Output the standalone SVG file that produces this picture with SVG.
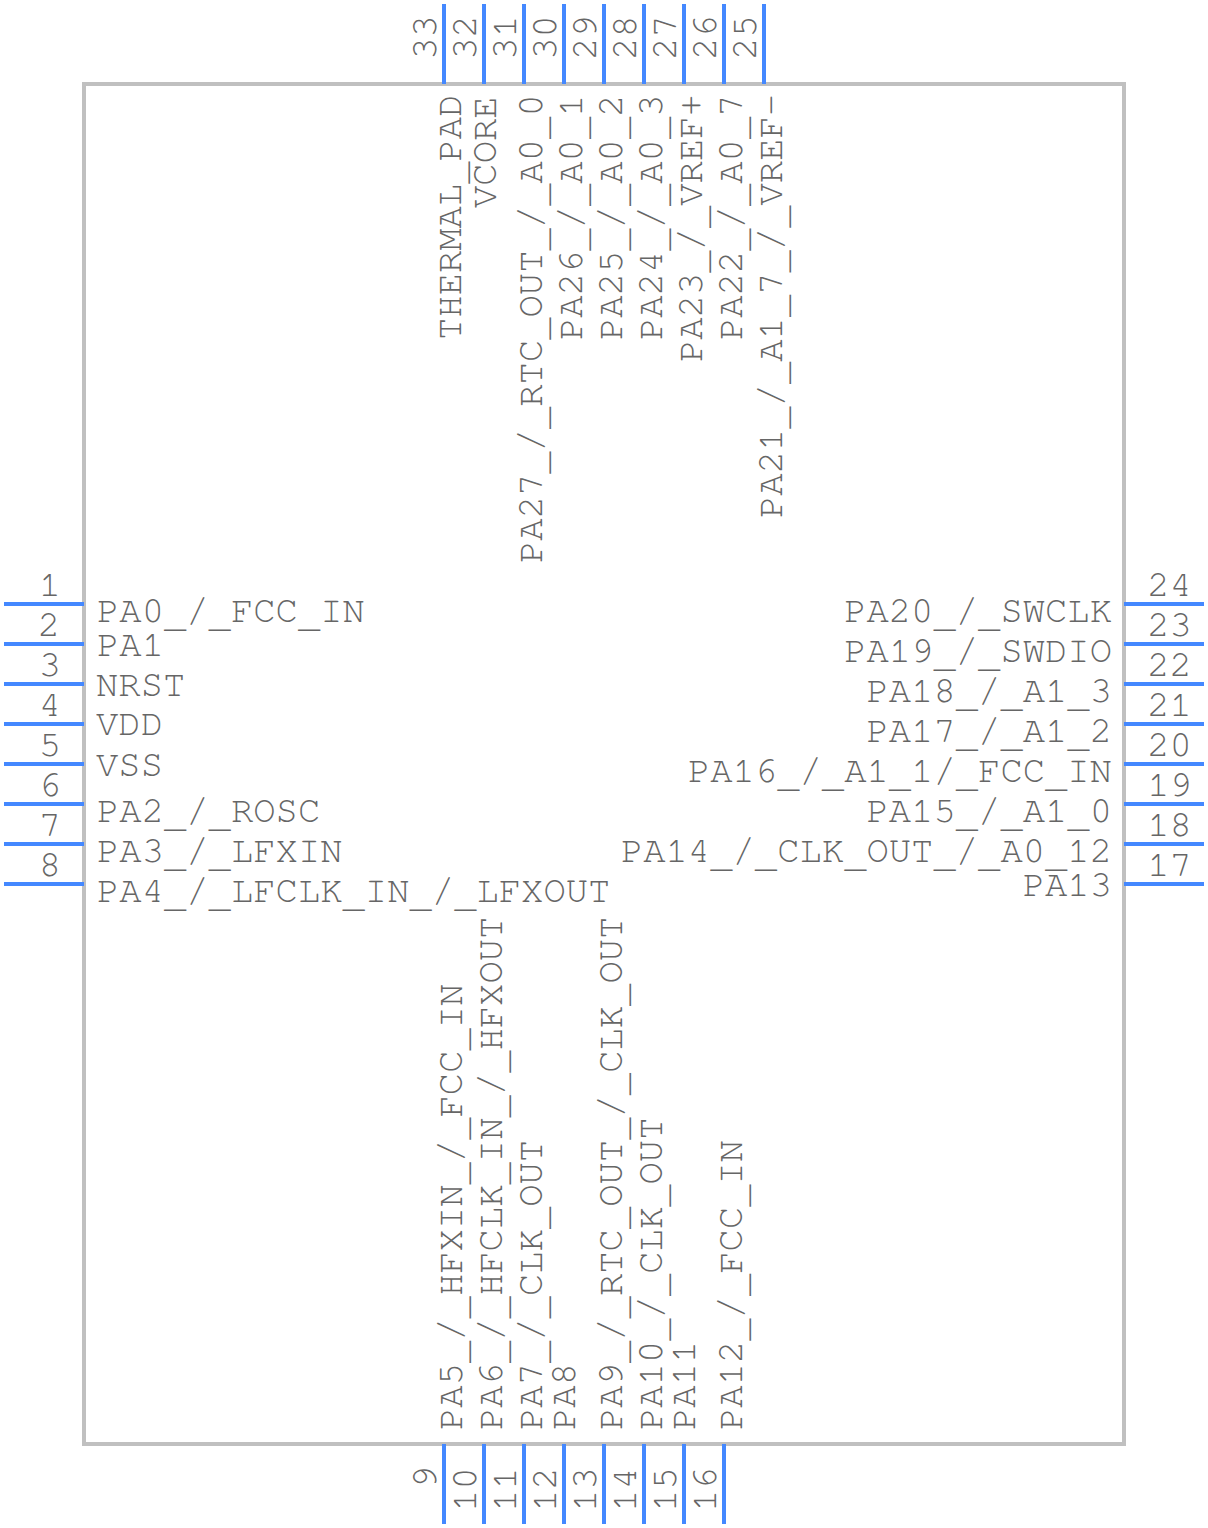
<svg xmlns="http://www.w3.org/2000/svg" width="1208" height="1528" viewBox="0 0 1208 1528">
<style>
rect{fill:#fff;stroke:none}
#body{fill:none;stroke:#c0c0c0;stroke-width:4}
line{stroke:#4488ff;stroke-width:4}
text{font-family:FreeMono,"Liberation Mono",monospace;fill:#666;font-size:37.2px;opacity:.999}
.n{text-anchor:middle}
.e{text-anchor:end}
.u{baseline-shift:-4.5px}
</style>
<rect x="0" y="0" width="1208" height="1528"/>
<rect id="body" x="84" y="84" width="1040" height="1360"/>
<g id="connectors">
<line x1="4" y1="604" x2="84" y2="604"/><line x1="4" y1="644" x2="84" y2="644"/><line x1="4" y1="684" x2="84" y2="684"/><line x1="4" y1="724" x2="84" y2="724"/><line x1="4" y1="764" x2="84" y2="764"/><line x1="4" y1="804" x2="84" y2="804"/><line x1="4" y1="844" x2="84" y2="844"/><line x1="4" y1="884" x2="84" y2="884"/>
<line x1="1124" y1="604" x2="1204" y2="604"/><line x1="1124" y1="644" x2="1204" y2="644"/><line x1="1124" y1="684" x2="1204" y2="684"/><line x1="1124" y1="724" x2="1204" y2="724"/><line x1="1124" y1="764" x2="1204" y2="764"/><line x1="1124" y1="804" x2="1204" y2="804"/><line x1="1124" y1="844" x2="1204" y2="844"/><line x1="1124" y1="884" x2="1204" y2="884"/>
<line x1="444" y1="4" x2="444" y2="84"/><line x1="484" y1="4" x2="484" y2="84"/><line x1="524" y1="4" x2="524" y2="84"/><line x1="564" y1="4" x2="564" y2="84"/><line x1="604" y1="4" x2="604" y2="84"/><line x1="644" y1="4" x2="644" y2="84"/><line x1="684" y1="4" x2="684" y2="84"/><line x1="724" y1="4" x2="724" y2="84"/><line x1="764" y1="4" x2="764" y2="84"/>
<line x1="444" y1="1444" x2="444" y2="1524"/><line x1="484" y1="1444" x2="484" y2="1524"/><line x1="524" y1="1444" x2="524" y2="1524"/><line x1="564" y1="1444" x2="564" y2="1524"/><line x1="604" y1="1444" x2="604" y2="1524"/><line x1="644" y1="1444" x2="644" y2="1524"/><line x1="684" y1="1444" x2="684" y2="1524"/><line x1="724" y1="1444" x2="724" y2="1524"/>
</g>
<g id="pin1"><text class="n" x="50" y="595.5">1</text><text x="97" y="622">PA0<tspan class="u">_</tspan>/<tspan class="u">_</tspan>FCC<tspan class="u">_</tspan>IN</text></g>
<g id="pin2"><text class="n" x="49" y="635.5">2</text><text x="97" y="656">PA1</text></g>
<g id="pin3"><text class="n" x="50" y="675.5">3</text><text x="96" y="695.5">NRST</text></g>
<g id="pin4"><text class="n" x="50" y="715.5">4</text><text x="96" y="735">VDD</text></g>
<g id="pin5"><text class="n" x="50" y="755.5">5</text><text x="96" y="775.5">VSS</text></g>
<g id="pin6"><text class="n" x="50" y="795.5">6</text><text x="97" y="822">PA2<tspan class="u">_</tspan>/<tspan class="u">_</tspan>ROSC</text></g>
<g id="pin7"><text class="n" x="50" y="835.5">7</text><text x="97" y="862">PA3<tspan class="u">_</tspan>/<tspan class="u">_</tspan>LFXIN</text></g>
<g id="pin8"><text class="n" x="50" y="875.5">8</text><text x="97" y="902">PA4<tspan class="u">_</tspan>/<tspan class="u">_</tspan>LFCLK<tspan class="u">_</tspan>IN<tspan class="u">_</tspan>/<tspan class="u">_</tspan>LFXOUT</text></g>
<g id="pin24"><text class="n" x="1169.5" y="595.5">24</text><text class="e" x="1112" y="622">PA20<tspan class="u">_</tspan>/<tspan class="u">_</tspan>SWCLK</text></g>
<g id="pin23"><text class="n" x="1169.5" y="635.5">23</text><text class="e" x="1112" y="662">PA19<tspan class="u">_</tspan>/<tspan class="u">_</tspan>SWDIO</text></g>
<g id="pin22"><text class="n" x="1169.5" y="675.5">22</text><text class="e" x="1112" y="702">PA18<tspan class="u">_</tspan>/<tspan class="u">_</tspan>A1<tspan class="u">_</tspan>3</text></g>
<g id="pin21"><text class="n" x="1169.5" y="715.5">21</text><text class="e" x="1112" y="742">PA17<tspan class="u">_</tspan>/<tspan class="u">_</tspan>A1<tspan class="u">_</tspan>2</text></g>
<g id="pin20"><text class="n" x="1169.5" y="755.5">20</text><text class="e" x="1112" y="782">PA16<tspan class="u">_</tspan>/<tspan class="u">_</tspan>A1<tspan class="u">_</tspan>1/<tspan class="u">_</tspan>FCC<tspan class="u">_</tspan>IN</text></g>
<g id="pin19"><text class="n" x="1169.5" y="795.5">19</text><text class="e" x="1112" y="822">PA15<tspan class="u">_</tspan>/<tspan class="u">_</tspan>A1<tspan class="u">_</tspan>0</text></g>
<g id="pin18"><text class="n" x="1169.5" y="835.5">18</text><text class="e" x="1112" y="862">PA14<tspan class="u">_</tspan>/<tspan class="u">_</tspan>CLK<tspan class="u">_</tspan>OUT<tspan class="u">_</tspan>/<tspan class="u">_</tspan>A0<tspan class="u">_</tspan>12</text></g>
<g id="pin17"><text class="n" x="1169.5" y="875.5">17</text><text class="e" x="1112" y="896">PA13</text></g>
<g id="pin33"><text class="n" transform="translate(435.5,37.5) rotate(-90)">33</text><text transform="translate(460.5,340) rotate(-90)">THERMAL<tspan class="u">_</tspan>PAD</text></g>
<g id="pin32"><text class="n" transform="translate(475.5,37.5) rotate(-90)">32</text><text transform="translate(495.5,208) rotate(-90)">VCORE</text></g>
<g id="pin31"><text class="n" transform="translate(515.5,37.5) rotate(-90)">31</text><text transform="translate(541.5,563) rotate(-90)">PA27<tspan class="u">_</tspan>/<tspan class="u">_</tspan>RTC<tspan class="u">_</tspan>OUT<tspan class="u">_</tspan>/<tspan class="u">_</tspan>A0<tspan class="u">_</tspan>0</text></g>
<g id="pin30"><text class="n" transform="translate(555.5,37.5) rotate(-90)">30</text><text transform="translate(581.5,340) rotate(-90)">PA26<tspan class="u">_</tspan>/<tspan class="u">_</tspan>A0<tspan class="u">_</tspan>1</text></g>
<g id="pin29"><text class="n" transform="translate(595.5,37.5) rotate(-90)">29</text><text transform="translate(621.5,340) rotate(-90)">PA25<tspan class="u">_</tspan>/<tspan class="u">_</tspan>A0<tspan class="u">_</tspan>2</text></g>
<g id="pin28"><text class="n" transform="translate(635.5,37.5) rotate(-90)">28</text><text transform="translate(661.5,340) rotate(-90)">PA24<tspan class="u">_</tspan>/<tspan class="u">_</tspan>A0<tspan class="u">_</tspan>3</text></g>
<g id="pin27"><text class="n" transform="translate(675.5,37.5) rotate(-90)">27</text><text transform="translate(701.5,362) rotate(-90)">PA23<tspan class="u">_</tspan>/<tspan class="u">_</tspan>VREF+</text></g>
<g id="pin26"><text class="n" transform="translate(715.5,37.5) rotate(-90)">26</text><text transform="translate(741.5,340) rotate(-90)">PA22<tspan class="u">_</tspan>/<tspan class="u">_</tspan>A0<tspan class="u">_</tspan>7</text></g>
<g id="pin25"><text class="n" transform="translate(755.5,37.5) rotate(-90)">25</text><text transform="translate(781.5,518) rotate(-90)">PA21<tspan class="u">_</tspan>/<tspan class="u">_</tspan>A1<tspan class="u">_</tspan>7<tspan class="u">_</tspan>/<tspan class="u">_</tspan>VREF-</text></g>
<g id="pin9"><text class="n" transform="translate(435.5,1477) rotate(-90)">9</text><text transform="translate(461.5,1430) rotate(-90)">PA5<tspan class="u">_</tspan>/<tspan class="u">_</tspan>HFXIN<tspan class="u">_</tspan>/<tspan class="u">_</tspan>FCC<tspan class="u">_</tspan>IN</text></g>
<g id="pin10"><text class="n" transform="translate(475.5,1489.5) rotate(-90)">10</text><text transform="translate(501.5,1430) rotate(-90)">PA6<tspan class="u">_</tspan>/<tspan class="u">_</tspan>HFCLK<tspan class="u">_</tspan>IN<tspan class="u">_</tspan>/<tspan class="u">_</tspan>HFXOUT</text></g>
<g id="pin11"><text class="n" transform="translate(515.5,1489.5) rotate(-90)">11</text><text transform="translate(541.5,1430) rotate(-90)">PA7<tspan class="u">_</tspan>/<tspan class="u">_</tspan>CLK<tspan class="u">_</tspan>OUT</text></g>
<g id="pin12"><text class="n" transform="translate(555.5,1489.5) rotate(-90)">12</text><text transform="translate(575,1430) rotate(-90)">PA8</text></g>
<g id="pin13"><text class="n" transform="translate(595.5,1489.5) rotate(-90)">13</text><text transform="translate(621.5,1430) rotate(-90)">PA9<tspan class="u">_</tspan>/<tspan class="u">_</tspan>RTC<tspan class="u">_</tspan>OUT<tspan class="u">_</tspan>/<tspan class="u">_</tspan>CLK<tspan class="u">_</tspan>OUT</text></g>
<g id="pin14"><text class="n" transform="translate(635.5,1489.5) rotate(-90)">14</text><text transform="translate(661.5,1430) rotate(-90)">PA10<tspan class="u">_</tspan>/<tspan class="u">_</tspan>CLK<tspan class="u">_</tspan>OUT</text></g>
<g id="pin15"><text class="n" transform="translate(675.5,1489.5) rotate(-90)">15</text><text transform="translate(695,1430) rotate(-90)">PA11</text></g>
<g id="pin16"><text class="n" transform="translate(715.5,1489.5) rotate(-90)">16</text><text transform="translate(741.5,1430) rotate(-90)">PA12<tspan class="u">_</tspan>/<tspan class="u">_</tspan>FCC<tspan class="u">_</tspan>IN</text></g>
</svg>
